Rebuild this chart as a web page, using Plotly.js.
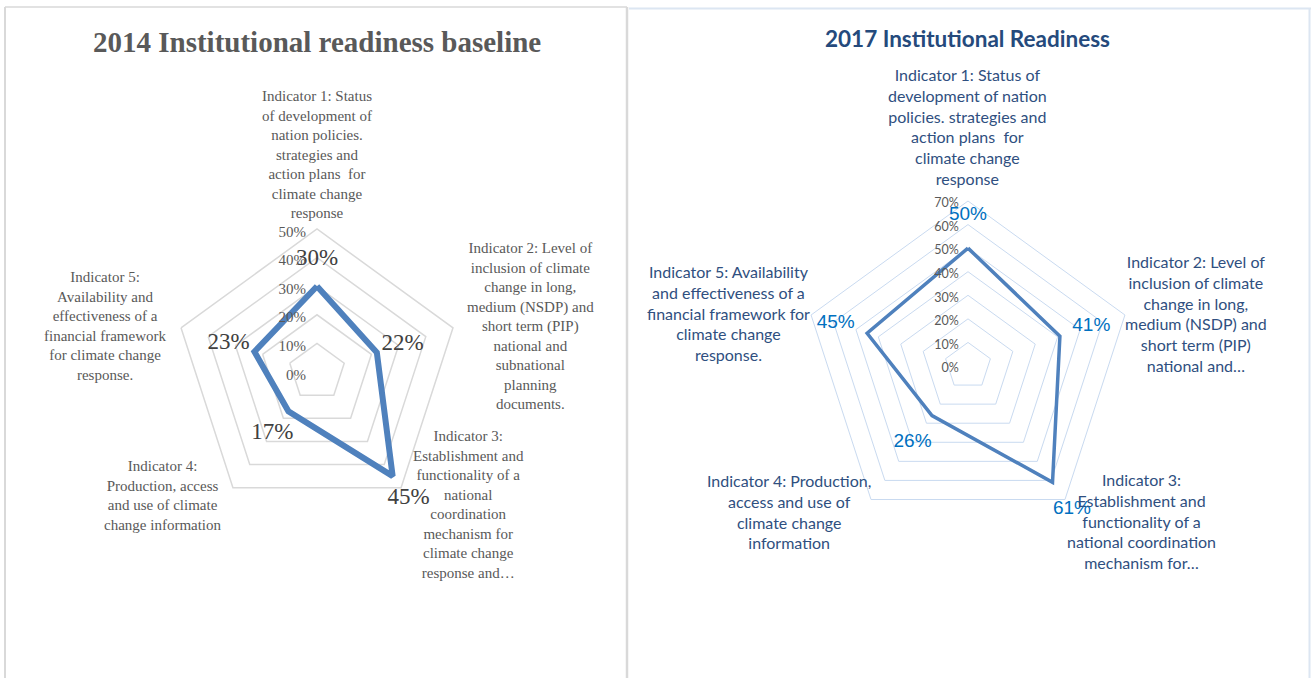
<!DOCTYPE html>
<html>
<head>
<meta charset="utf-8">
<script src="https://cdn.plot.ly/plotly-3.0.1.min.js"></script>
<style>
html,body{margin:0;padding:0;background:#fff;}
#chart{width:1311px;height:678px;}
</style>
</head>
<body>
<div id="chart"></div>
<script>
// ---- data ----
var indicators = ["Indicator 1", "Indicator 2", "Indicator 3", "Indicator 4", "Indicator 5"];
var values2014 = [30, 22, 45, 17, 23];
var values2017 = [50, 41, 61, 26, 45];
var radialTicks2014 = [0, 10, 20, 30, 40, 50];
var radialTicks2017 = [0, 10, 20, 30, 40, 50, 60, 70];
var labels2014 = [
  "Indicator 1: Status<br>of development of<br>nation policies.<br>strategies and<br>action plans  for<br>climate change<br>response",
  "Indicator 2: Level of<br>inclusion of climate<br>change in long,<br>medium (NSDP) and<br>short term (PIP)<br>national and<br>subnational<br>planning<br>documents.",
  "Indicator 3:<br>Establishment and<br>functionality of a<br>national<br>coordination<br>mechanism for<br>climate change<br>response and\u2026",
  "Indicator 4:<br>Production, access<br>and use of climate<br>change information",
  "Indicator 5:<br>Availability and<br>effectiveness of a<br>financial framework<br>for climate change<br>response."
];
var labels2017 = [
  "Indicator 1: Status of<br>development of nation<br>policies. strategies and<br>action plans  for<br>climate change<br>response",
  "Indicator 2: Level of<br>inclusion of climate<br>change in long,<br>medium (NSDP) and<br>short term (PIP)<br>national and\u2026",
  "Indicator 3:<br>Establishment and<br>functionality of a<br>national coordination<br>mechanism for\u2026",
  "Indicator 4: Production,<br>access and use of<br>climate change<br>information",
  "Indicator 5: Availability<br>and effectiveness of a<br>financial framework for<br>climate change<br>response."
];
var title2014 = "2014 Institutional readiness baseline";
var title2017 = "2017 Institutional Readiness";

// ---- helpers ----
var W = 1311, H = 678;
function px(x){ return x / W; }
function py(y){ return 1 - y / H; }
function closed(a){ return a.concat([a[0]]); }
function pct(a){ return a.map(function(v){ return v + "%"; }); }
// data labels sit a fixed distance outside each point (Excel "outside" placement)
function shifted(a, d){ return a.map(function(v){ return v + d; }); }
function tickText(a){ return a.map(function(v){ return v + "%"; }); }

var off2014 = 9.5, off2017 = 14;

var trace2014 = {
  type: "scatterpolar", subplot: "polar",
  r: closed(values2014), theta: closed(indicators),
  mode: "lines",
  line: {color: "#4f81bd", width: 6},
  hoverinfo: "skip", showlegend: false
};
var labels2014Trace = {
  type: "scatterpolar", subplot: "polar",
  r: shifted(values2014, off2014), theta: indicators,
  mode: "text", text: pct(values2014), textposition: "middle center",
  textfont: {family: "Liberation Serif, serif", size: 23, color: "#404040"},
  hoverinfo: "skip", showlegend: false, cliponaxis: false
};
var trace2017 = {
  type: "scatterpolar", subplot: "polar2",
  r: closed(values2017), theta: closed(indicators),
  mode: "lines",
  line: {color: "#4f81bd", width: 3.5},
  hoverinfo: "skip", showlegend: false
};
var labels2017Trace = {
  type: "scatterpolar", subplot: "polar2",
  r: shifted(values2017, off2017), theta: indicators,
  mode: "text", text: pct(values2017), textposition: "middle center",
  textfont: {family: "Liberation Sans, Arial, sans-serif", size: 19, color: "#0070c0"},
  hoverinfo: "skip", showlegend: false, cliponaxis: false
};

// plot geometry (pixels): centre and pixels per 1 %
var L = {cx: 317, cy: 372, ppu: 143 / 50, max: 60};
var R = {cx: 968, cy: 366, ppu: 165 / 70, max: 80};
function dom(G){
  var r = G.ppu * G.max;
  return {x: [px(G.cx - r), px(G.cx + r)], y: [py(G.cy + r), py(G.cy - r)]};
}

var annotations = [];
annotations.push({text: "<b>" + title2014 + "</b>", x: px(317), y: py(42), xref: "paper", yref: "paper",
  showarrow: false, xanchor: "center", yanchor: "middle",
  font: {family: "Liberation Serif, serif", size: 29, color: "#595959"}});
annotations.push({text: "<b>" + title2017 + "</b>", x: px(968), y: py(38), xref: "paper", yref: "paper",
  showarrow: false, xanchor: "center", yanchor: "middle",
  font: {family: "Lato, Liberation Sans, sans-serif", size: 22.5, color: "#254a7c"}});

var leftLabelPos = [[317, 155], [530, 326], [468, 504], [163, 495], [105, 326]];
var rightLabelPos = [[968, 126], [1196, 313], [1141, 521], [789, 511], [728, 313]];
for (var i = 0; i < 5; i++) {
  annotations.push({text: labels2014[i], x: px(leftLabelPos[i][0]), y: py(leftLabelPos[i][1]),
    xref: "paper", yref: "paper", showarrow: false, xanchor: "center", yanchor: "middle", align: "center",
    font: {family: "Liberation Serif, serif", size: 15, color: "#595959"}});
  annotations.push({text: labels2017[i], x: px(rightLabelPos[i][0]), y: py(rightLabelPos[i][1]),
    xref: "paper", yref: "paper", showarrow: false, xanchor: "center", yanchor: "middle", align: "center",
    font: {family: "Lato, Liberation Sans, sans-serif", size: 16, color: "#2f4f80"}});
}

var shapes = [
  // left panel frame
  {type: "line", xref: "paper", yref: "paper", x0: px(5), x1: px(5), y0: py(7), y1: 0, line: {color: "#d9d9d9", width: 2}},
  {type: "line", xref: "paper", yref: "paper", x0: px(5), x1: px(627), y0: py(7), y1: py(7), line: {color: "#d9d9d9", width: 1.5}},
  {type: "line", xref: "paper", yref: "paper", x0: px(627), x1: px(627), y0: py(7), y1: 0, line: {color: "#d9d9d9", width: 2.5}},
  // right panel frame
  {type: "line", xref: "paper", yref: "paper", x0: px(629), x1: px(1311), y0: py(8.5), y1: py(8.5), line: {color: "#dce6f2", width: 2}},
  {type: "line", xref: "paper", yref: "paper", x0: px(1309.5), x1: px(1309.5), y0: py(8), y1: 0, line: {color: "#dce6f2", width: 2}}
];

var layout = {
  width: W, height: H,
  margin: {l: 0, r: 0, t: 0, b: 0},
  paper_bgcolor: "#ffffff",
  showlegend: false,
  annotations: annotations,
  shapes: shapes,
  polar: {
    domain: dom(L),
    gridshape: "linear",
    bgcolor: "rgba(0,0,0,0)",
    radialaxis: {range: [0, L.max], tickmode: "array", tickvals: radialTicks2014, ticktext: tickText(radialTicks2014),
      angle: 90, side: "counterclockwise",
      showline: false, ticks: "", gridcolor: "#d9d9d9", gridwidth: 1.5,
      tickfont: {family: "Liberation Serif, serif", size: 15, color: "#595959"}},
    angularaxis: {direction: "clockwise", rotation: 90, showticklabels: false, ticks: "",
      showgrid: false, showline: false,
      type: "category", categoryarray: indicators}
  },
  polar2: {
    domain: dom(R),
    gridshape: "linear",
    bgcolor: "rgba(0,0,0,0)",
    radialaxis: {range: [0, R.max], tickmode: "array", tickvals: radialTicks2017, ticktext: tickText(radialTicks2017),
      angle: 90, side: "counterclockwise",
      showline: false, ticks: "", gridcolor: "#c9daf0", gridwidth: 1,
      tickfont: {family: "Lato, Liberation Sans, sans-serif", size: 12.5, color: "#595959"}},
    angularaxis: {direction: "clockwise", rotation: 90, showticklabels: false, ticks: "",
      showgrid: false, showline: false,
      type: "category", categoryarray: indicators}
  }
};

Plotly.newPlot("chart", [trace2014, labels2014Trace, trace2017, labels2017Trace], layout, {staticPlot: true, displayModeBar: false});
</script>
</body>
</html>
